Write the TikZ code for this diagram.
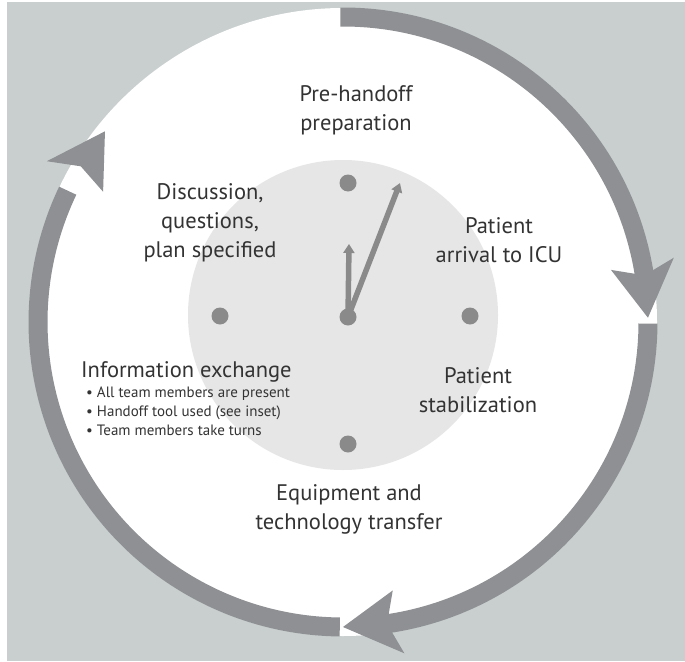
\documentclass[tikz,border=0pt]{standalone}
\usepackage{fontspec}
\setmainfont{PT Sans}
\usetikzlibrary{arrows.meta}
\definecolor{bggray}{HTML}{C9CFCF}
\definecolor{ringgray}{HTML}{8E9093}
\definecolor{facegray}{HTML}{E6E6E6}
\definecolor{dotgray}{HTML}{8A8A8A}
\definecolor{txt}{HTML}{333333}
\tikzset{
  ringarc/.style={draw=ringgray, line width=19pt},
  ringhead/.style={fill=ringgray},
  clockdot/.style={circle, fill=dotgray, minimum size=17pt, inner sep=0pt},
  hand/.style={draw=dotgray, line width=5.5pt, -{Triangle[width=11pt,length=9pt]}},
  label/.style={text=txt, align=center, font=\fontsize{22.5}{29}\selectfont, inner sep=0pt},
  smalllist/.style={text=txt, align=left, font=\fontsize{15}{19}\selectfont, inner sep=0pt},
}
\begin{document}
\begin{tikzpicture}[x=1pt,y=1pt]
\useasboundingbox (0,0) rectangle (685,-661);
\fill[white] (0,0) rectangle (685,-661);
\fill[bggray] (7,-2) rectangle (685,-661);

% white disc and the cycle ring around it
\coordinate (O) at (343,-322);
\fill[white] (O) circle[radius=314];
\begin{scope}[shift={(O)}]
  \draw[ringarc] (90.5:305) arc[start angle=90.5, end angle=8, radius=305];
  \draw[ringarc] (-0.3:305) arc[start angle=-0.3, end angle=-82.5, radius=305];
  \draw[ringarc] (-90.6:305) arc[start angle=-90.6, end angle=-205.5, radius=305];
  % arrowheads: tip angle / back angle
  \foreach \t/\b in {0.8/11, -90/-79.5, 141.3/151.5}{
    \fill[ringhead] (\t:305) -- (\b:337) -- ({\b-2.2}:305) -- (\b:273) -- cycle;
  }
\end{scope}

% clock face
\fill[facegray] (343,-315) circle[radius=155];
\node[clockdot] (d12) at (348,-183) {};
\node[clockdot] (d3) at (470,-316) {};
\node[clockdot] (d6) at (348,-444) {};
\node[clockdot] (d9) at (220,-316) {};
\node[clockdot] (ctr) at (348,-317) {};
\coordinate (hourtip) at (349,-244);
\coordinate (mintip) at (400,-183);
\draw[hand] (ctr.center) -- (hourtip);
\draw[hand] (ctr.center) -- (mintip);

% phase labels
\node[label] (pre) at (356,-110) {Pre-handoff\\preparation};
\node[label] (arr) at (499,-240) {Patient\\arrival to ICU};
\node[label] (stab) at (478,-390) {Patient\\stabilization};
\node[label] (equip) at (349,-509) {Equipment and\\technology transfer};
\node[label] (disc) at (210,-223) {Discussion,\\questions,\\plan specified};
\node[label, anchor=west] (info) at (81,-372) {Information exchange};
\node[smalllist, anchor=north west] (infolist) at (86,-387)
  {\textbullet\ All team members are present\\
   \textbullet\ Handoff tool used (see inset)\\
   \textbullet\ Team members take turns};
\end{tikzpicture}
\end{document}
